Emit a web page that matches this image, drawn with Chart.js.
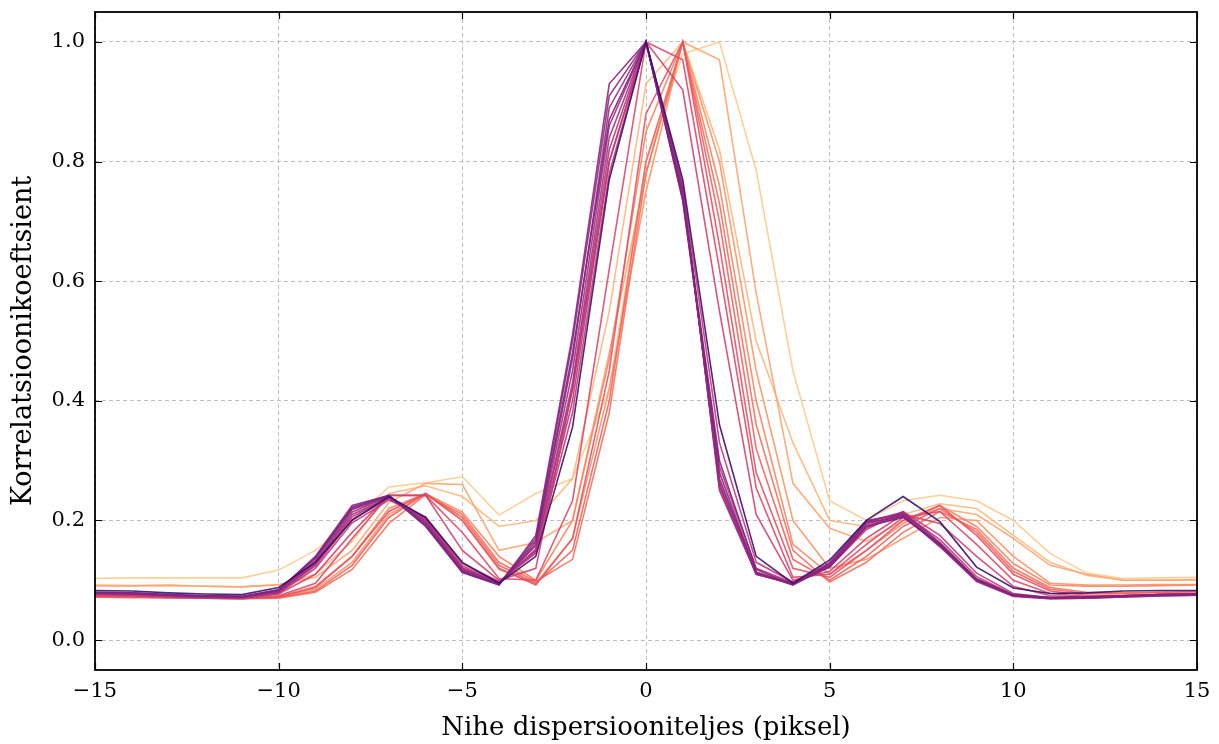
<!DOCTYPE html>
<html>
<head>
<meta charset="utf-8">
<script src="https://cdn.jsdelivr.net/npm/chart.js@4.4.1/dist/chart.umd.min.js"></script>
<style>
  html, body { margin: 0; padding: 0; background: #fff; }
  #wrap { width: 1219px; height: 744px; }
</style>
</head>
<body>
<div id="wrap"><canvas id="chart" width="1219" height="744"></canvas></div>
<script>
// lags in pixels
const lags = [-15,-14,-13,-12,-11,-10,-9,-8,-7,-6,-5,-4,-3,-2,-1,0,1,2,3,4,5,6,7,8,9,10,11,12,13,14,15];
const xTicks = [-15, -10, -5, 0, 5, 10, 15];
const yTicks = [0.0, 0.2, 0.4, 0.6, 0.8, 1.0];

// correlation curves, first (dark) to last (light)
const c00 = [.083,.082,.079,.077,.076,.088,.130,.200,.240,.205,.130,.095,.140,.356,.770,1.0,.770,.360,.140,.095,.134,.200,.240,.198,.122,.087,.078,.079,.082,.083,.083];
const c01 = [.080,.079,.076,.074,.073,.084,.138,.222,.242,.192,.114,.093,.165,.480,.870,1.0,.740,.300,.118,.093,.122,.190,.205,.160,.102,.076,.071,.072,.074,.076,.077];
const c02 = [.079,.078,.075,.073,.072,.083,.140,.225,.242,.190,.113,.092,.175,.510,.930,1.0,.735,.280,.113,.092,.125,.195,.208,.158,.100,.074,.070,.071,.073,.075,.076];
const c03 = [.080,.079,.076,.074,.073,.084,.136,.220,.241,.194,.116,.094,.170,.500,.910,1.0,.745,.270,.112,.093,.127,.198,.212,.162,.101,.075,.071,.072,.074,.076,.077];
const c04 = [.079,.078,.075,.073,.072,.082,.133,.218,.240,.196,.117,.094,.160,.470,.890,1.0,.750,.260,.110,.094,.128,.200,.210,.158,.099,.074,.070,.071,.073,.075,.076];
const c05 = [.078,.077,.075,.073,.072,.081,.130,.214,.240,.198,.118,.095,.158,.450,.860,1.0,.755,.255,.111,.095,.130,.198,.214,.163,.102,.075,.070,.071,.073,.075,.076];
const c06 = [.078,.077,.074,.072,.071,.080,.128,.210,.238,.200,.120,.095,.152,.430,.840,1.0,.760,.250,.110,.094,.128,.196,.208,.156,.098,.073,.069,.070,.072,.074,.075];
const c07 = [.077,.076,.074,.072,.071,.080,.126,.206,.238,.202,.121,.096,.150,.420,.820,1.0,.748,.265,.114,.095,.126,.192,.206,.160,.100,.074,.069,.070,.072,.074,.075];
const c08 = [.077,.076,.073,.071,.070,.079,.124,.202,.236,.204,.124,.097,.148,.400,.800,1.0,.735,.290,.120,.096,.124,.188,.212,.168,.106,.076,.070,.071,.073,.075,.076];
const c09 = [.076,.075,.073,.071,.070,.078,.120,.196,.234,.206,.128,.098,.145,.380,.780,1.0,.760,.330,.130,.097,.122,.185,.215,.175,.112,.078,.071,.072,.074,.076,.077];
const c10 = [.076,.075,.073,.071,.070,.077,.110,.180,.242,.242,.150,.100,.120,.420,.800,1.0,.920,.550,.210,.100,.115,.170,.210,.195,.140,.090,.074,.072,.073,.075,.076];
const c11 = [.075,.074,.072,.070,.069,.074,.095,.170,.242,.242,.180,.103,.100,.233,.620,1.0,.970,.620,.254,.105,.110,.160,.205,.215,.160,.100,.078,.073,.074,.076,.077];
const c12 = [.073,.072,.071,.070,.069,.072,.088,.140,.215,.245,.200,.120,.092,.170,.450,.880,1.0,.660,.280,.120,.105,.150,.200,.225,.175,.110,.082,.075,.075,.077,.078];
const c13 = [.072,.072,.071,.070,.070,.071,.082,.125,.205,.245,.205,.125,.095,.150,.400,.800,1.0,.700,.320,.135,.100,.140,.190,.220,.180,.115,.085,.078,.078,.080,.081];
const c14 = [.072,.071,.071,.070,.069,.070,.080,.118,.195,.243,.210,.130,.098,.135,.380,.780,1.0,.730,.360,.150,.097,.130,.180,.215,.185,.120,.088,.080,.079,.080,.081];
const c15 = [.074,.073,.072,.071,.071,.073,.090,.140,.220,.245,.214,.140,.100,.200,.470,.850,1.0,.760,.400,.160,.110,.150,.195,.225,.190,.128,.092,.090,.090,.091,.092];
const c16 = [.073,.072,.072,.071,.070,.072,.085,.130,.210,.244,.200,.118,.095,.170,.420,.750,1.0,.800,.450,.200,.120,.135,.170,.205,.200,.140,.095,.092,.092,.093,.093];
const c17 = [.092,.091,.092,.090,.089,.093,.105,.150,.230,.262,.260,.150,.163,.200,.480,.780,1.0,.970,.580,.262,.187,.165,.200,.220,.210,.170,.125,.110,.100,.100,.101];
const c18 = [.090,.090,.091,.090,.089,.092,.110,.165,.245,.258,.240,.190,.200,.270,.550,.930,1.0,.820,.500,.330,.200,.190,.210,.228,.220,.175,.130,.108,.100,.100,.100];
const c19 = [.103,.104,.104,.104,.104,.117,.150,.200,.256,.263,.273,.209,.245,.270,.420,.800,.980,1.0,.785,.450,.233,.200,.233,.242,.233,.200,.145,.112,.103,.104,.105];

const curves = [c00,c01,c02,c03,c04,c05,c06,c07,c08,c09,c10,c11,c12,c13,c14,c15,c16,c17,c18,c19];
// position of each curve on the magma colormap
const cmapPos = [0.20,0.37,0.39,0.41,0.43,0.45,0.47,0.49,0.51,0.53,0.57,0.60,0.63,0.67,0.70,0.74,0.77,0.81,0.85,0.89];

// magma colormap, sampled 0.20 .. 0.90 in steps of 0.05
const magma = ['#3b0f70','#51127c','#641a80','#781c81','#8c2981','#a1307e','#b73779','#cb3e72','#de4968','#ec5860','#f7705c','#fc8961','#fe9f6d','#feb77e','#fecf92'];

function hexToRgb(h) {
  return [parseInt(h.slice(1,3),16), parseInt(h.slice(3,5),16), parseInt(h.slice(5,7),16)];
}
function magmaAt(v) {
  const p = (v - 0.2) / 0.05;
  const i = Math.max(0, Math.min(Math.floor(p), magma.length - 2));
  const t = p - i;
  const a = hexToRgb(magma[i]), b = hexToRgb(magma[i+1]);
  const c = a.map((q, k) => Math.round(q + (b[k] - q) * t));
  return `rgba(${c[0]},${c[1]},${c[2]},0.9)`;
}

const datasets = curves.map((vals, i) => ({
  data: lags.map((x, k) => ({ x: x, y: vals[k] })),
  borderColor: magmaAt(cmapPos[i]),
  borderWidth: 1.6,
  pointRadius: 0,
  fill: false,
  tension: 0
}));

const FONT = '"DejaVu Serif", "Liberation Serif", serif';

// frame on all four sides and inward ticks, matplotlib style
const framePlugin = {
  id: 'frame',
  afterDraw(chart) {
    const ctx = chart.ctx;
    const a = chart.chartArea;
    const xs = chart.scales.x, ys = chart.scales.y;
    ctx.save();
    ctx.strokeStyle = '#000';
    ctx.lineWidth = 1.2;
    ctx.beginPath();
    xTicks.forEach(v => {
      const px = Math.round(xs.getPixelForValue(v)) + 0.5;
      ctx.moveTo(px, a.bottom); ctx.lineTo(px, a.bottom - 7);
      ctx.moveTo(px, a.top); ctx.lineTo(px, a.top + 7);
    });
    yTicks.forEach(v => {
      const py = Math.round(ys.getPixelForValue(v)) + 0.5;
      ctx.moveTo(a.left, py); ctx.lineTo(a.left + 7, py);
      ctx.moveTo(a.right, py); ctx.lineTo(a.right - 7, py);
    });
    ctx.stroke();
    ctx.lineWidth = 1.8;
    ctx.strokeRect(a.left, a.top, a.right - a.left, a.bottom - a.top);
    ctx.restore();
  }
};

const ctx = document.getElementById('chart').getContext('2d');
new Chart(ctx, {
  type: 'line',
  data: { datasets: datasets },
  plugins: [framePlugin],
  options: {
    responsive: false,
    animation: false,
    layout: { padding: { left: 0, right: 22, top: 12, bottom: 0 } },
    plugins: {
      legend: { display: false },
      tooltip: { enabled: false }
    },
    scales: {
      x: {
        type: 'linear',
        min: -15,
        max: 15,
        afterBuildTicks: s => { s.ticks = xTicks.map(v => ({ value: v })); },
        afterFit: s => { s.height = 74; s.paddingLeft = 0; s.paddingRight = 0; },
        grid: { color: '#b8b8b8', lineWidth: 0.9, drawTicks: false },
        border: { display: false, dash: [4, 3] },
        ticks: {
          padding: 9,
          color: '#000',
          font: { family: FONT, size: 21 },
          callback: v => (v < 0 ? '\u2212' + Math.abs(v) : String(v))
        },
        title: {
          display: true,
          text: 'Nihe dispersiooniteljes (piksel)',
          color: '#000',
          font: { family: FONT, size: 26 },
          padding: { top: 0, bottom: 0 }
        }
      },
      y: {
        type: 'linear',
        min: -0.05,
        max: 1.05,
        afterBuildTicks: s => { s.ticks = yTicks.map(v => ({ value: v })); },
        afterFit: s => { s.width = 95; s.paddingTop = 0; s.paddingBottom = 0; },
        grid: { color: '#b8b8b8', lineWidth: 0.9, drawTicks: false },
        border: { display: false, dash: [4, 3] },
        ticks: {
          padding: 10,
          color: '#000',
          font: { family: FONT, size: 21 },
          callback: v => v.toFixed(1)
        },
        title: {
          display: true,
          text: 'Korrelatsioonikoeftsient',
          color: '#000',
          font: { family: FONT, size: 27 },
          padding: { top: 8, bottom: 0 }
        }
      }
    }
  }
});
</script>
</body>
</html>
